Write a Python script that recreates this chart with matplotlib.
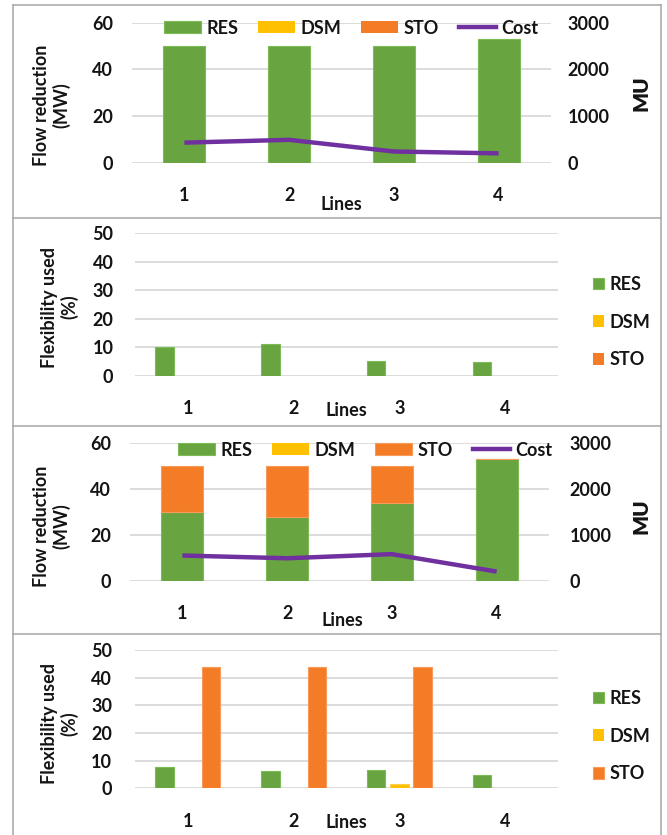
import matplotlib
matplotlib.use("Agg")
import matplotlib.pyplot as plt
import numpy as np
from matplotlib.lines import Line2D

plt.rcParams['font.family'] = ['Lato', 'DejaVu Sans']
plt.rcParams['font.weight'] = 'bold'

# ---- data ----
lines = ['1', '2', '3', '4']
series = ['RES', 'DSM', 'STO']

# case A
res_flow_a = [50, 50, 50, 53]
dsm_flow_a = [0, 0, 0, 0]
sto_flow_a = [0, 0, 0, 0]
cost_a = [430, 490, 240, 200]
res_flex_a = [10.0, 11.3, 5.3, 4.7]
dsm_flex_a = [0, 0, 0, 0]
sto_flex_a = [0, 0, 0, 0]

# case B
res_flow_b = [30, 28, 34, 53]
dsm_flow_b = [0, 0, 0, 0]
sto_flow_b = [20, 22, 16, 0]
cost_b = [550, 490, 580, 200]
res_flex_b = [7.8, 6.2, 6.5, 4.9]
dsm_flex_b = [0, 0, 1.4, 0]
sto_flex_b = [44, 44, 44, 0]

# ---- style ----
C_RES = '#68a440'
C_DSM = '#ffc000'
C_STO = '#f47c26'
C_COST = '#7030a0'
C_GRID = '#d9d9d9'
C_TXT = '#141414'
FS = 13

W, H = 667, 835
fig = plt.figure(figsize=(W / 100, H / 100), dpi=100)


def px_axes(x0, x1, ytop, ybot):
    return fig.add_axes([x0 / W, 1 - ybot / H, (x1 - x0) / W, (ybot - ytop) / H])


def style_axes(ax, ymax, step, ypad, xpad):
    ax.set_xlim(-0.5, len(lines) - 0.5)
    ax.set_ylim(0, ymax)
    ax.set_yticks(np.arange(0, ymax + 1, step))
    ax.set_xticks(np.arange(len(lines)))
    ax.set_xticklabels(lines)
    for s in ax.spines.values():
        s.set_visible(False)
    ax.yaxis.grid(True, color=C_GRID, lw=1.3)
    ax.set_axisbelow(True)
    ax.tick_params(axis='y', length=0, pad=ypad, labelsize=FS, labelcolor=C_TXT)
    ax.tick_params(axis='x', length=0, pad=xpad, labelsize=FS, labelcolor=C_TXT)
    ax.patch.set_alpha(0)


def flow_panel(ytop, ybot, x0, x1, res, dsm, sto, cost, lpad, rpad,
               leg_xy, ylab_xy, mu_xy, lines_xy):
    ax = px_axes(x0, x1, ytop, ybot)
    style_axes(ax, 60, 20, lpad, 17.5)
    x = np.arange(len(lines))
    b_res = ax.bar(x, res, 0.4, color=C_RES, edgecolor='#7dbb55', lw=0.8, label='RES')
    b_dsm = ax.bar(x, dsm, 0.4, bottom=res, color=C_DSM, lw=0, label='DSM')
    bottom2 = np.array(res) + np.array(dsm)
    b_sto = ax.bar(x, sto, 0.4, bottom=bottom2, color=C_STO,
                   edgecolor='#f79a5a', lw=0.8 if max(sto) > 0 else 0, label='STO')
    ax2 = ax.twinx()
    ax2.set_ylim(0, 3000)
    ax2.set_yticks([0, 1000, 2000, 3000])
    for s in ax2.spines.values():
        s.set_visible(False)
    ax2.tick_params(axis='y', length=0, pad=rpad, labelsize=FS, labelcolor=C_TXT)
    ax2.plot(x, cost, color=C_COST, lw=3.2, solid_capstyle='butt', label='Cost')
    handles = [b_res, b_dsm, b_sto,
               Line2D([], [], color=C_COST, lw=3.2)]
    fig.legend(handles, ['RES', 'DSM', 'STO', 'Cost'], loc='center',
               bbox_to_anchor=(leg_xy[0] / W, 1 - leg_xy[1] / H), ncol=4,
               frameon=False, fontsize=FS, handlelength=2.05, handleheight=0.65,
               handletextpad=0.3, columnspacing=1.1, borderpad=0, labelcolor=C_TXT)
    fig.text(ylab_xy[0] / W, 1 - ylab_xy[1] / H, 'Flow reduction\n(MW)',
             rotation=90, ha='center', va='center', fontsize=FS,
             color=C_TXT, linespacing=1.15, multialignment='center')
    fig.text(mu_xy[0] / W, 1 - mu_xy[1] / H, 'MU', rotation=90,
             ha='center', va='center', fontsize=15, color=C_TXT, fontweight='heavy')
    fig.text(lines_xy[0] / W, 1 - lines_xy[1] / H, 'Lines', ha='center',
             va='center', fontsize=FS, color=C_TXT)


def flex_panel(ytop, ybot, x0, x1, res, dsm, sto, lpad, leg_xy, ylab_xy, lines_xy):
    ax = px_axes(x0, x1, ytop, ybot)
    style_axes(ax, 50, 10, lpad, 17.5)
    x = np.arange(len(lines))
    w, off = 0.175, 0.22
    h1 = ax.bar(x - off, res, w, color=C_RES, edgecolor='#7dbb55', lw=0.8)
    h2 = ax.bar(x, dsm, w, color=C_DSM, edgecolor='#ffd050',
                lw=[0.8 if v > 0 else 0 for v in dsm])
    h3 = ax.bar(x + off, sto, w, color=C_STO, edgecolor='#f79a5a',
                lw=[0.8 if v > 0 else 0 for v in sto])
    fig.legend([h1, h2, h3], series, loc='center left',
               bbox_to_anchor=(leg_xy[0] / W, 1 - leg_xy[1] / H),
               frameon=False, fontsize=FS, handlelength=0.62, handleheight=0.62,
               handletextpad=0.3, labelspacing=1.15, borderpad=0, labelcolor=C_TXT)
    fig.text(ylab_xy[0] / W, 1 - ylab_xy[1] / H, 'Flexibility used\n(%)',
             rotation=90, ha='center', va='center', fontsize=FS,
             color=C_TXT, linespacing=1.15, multialignment='center')
    fig.text(lines_xy[0] / W, 1 - lines_xy[1] / H, 'Lines', ha='center',
             va='center', fontsize=FS, color=C_TXT)


flow_panel(22.7, 162.7, 132, 551, res_flow_a, dsm_flow_a, sto_flow_a, cost_a,
           lpad=13.5, rpad=12, leg_xy=(351, 28), ylab_xy=(52, 105),
           mu_xy=(641, 93), lines_xy=(341, 205))
flex_panel(233.3, 375.7, 135, 558, res_flex_a, dsm_flex_a, sto_flex_a,
           lpad=15.5, leg_xy=(584, 322), ylab_xy=(60, 307), lines_xy=(346, 410))
flow_panel(443.3, 580.7, 130, 549, res_flow_b, dsm_flow_b, sto_flow_b, cost_b,
           lpad=13.5, rpad=15, leg_xy=(365, 450), ylab_xy=(52, 526),
           mu_xy=(641, 516), lines_xy=(342, 620))
flex_panel(650, 788.3, 135, 558, res_flex_b, dsm_flex_b, sto_flex_b,
           lpad=16.5, leg_xy=(584, 736), ylab_xy=(60, 724), lines_xy=(346, 823))

# panel frames
C_FRAME = '#a6a6a6'
for y in [5, 218, 426, 634]:
    fig.add_artist(Line2D([13 / W, 661 / W], [1 - y / H, 1 - y / H],
                          color=C_FRAME, lw=1.1, transform=fig.transFigure))
for xx in [13, 661]:
    fig.add_artist(Line2D([xx / W, xx / W], [1 - 5 / H, 0],
                          color=C_FRAME, lw=1.1, transform=fig.transFigure))

fig.savefig('out.png', dpi=100)
